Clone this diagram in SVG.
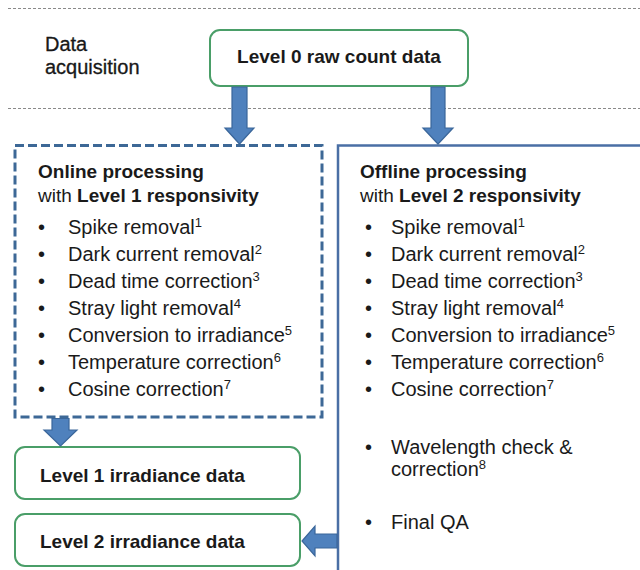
<svg xmlns="http://www.w3.org/2000/svg" width="640" height="570" viewBox="0 0 640 570">
<style>
text{font-family:"Liberation Sans",Arial,sans-serif;font-size:20px;fill:#1a1a1a}
.b{font-weight:bold;font-size:19px}
.t{font-size:19px}
.sup{font-size:13px}
.sep{stroke:#8a8a8a;stroke-width:1;stroke-dasharray:3 2;fill:none}
.gbox{fill:#fff;stroke:#4a9e68;stroke-width:2}
.arr{fill:#4f81bd;stroke:#3a669a;stroke-width:1.2}
</style>
<rect width="640" height="570" fill="#fff"/>
<g id="separators">
<line class="sep" x1="8" y1="8.5" x2="640" y2="8.5"/>
<line class="sep" x1="8" y1="108.5" x2="640" y2="108.5"/>
</g>
<g id="label-acquisition">
<text x="45" y="51" fill="#111" stroke="#111" stroke-width="0.3">Data</text>
<text x="45" y="74" fill="#111" stroke="#111" stroke-width="0.3">acquisition</text>
</g>
<g id="level0">
<rect class="gbox" x="210" y="30" width="258" height="56" rx="10"/>
<text class="b" x="339" y="63" text-anchor="middle">Level 0 raw count data</text>
</g>
<g id="online">
<rect x="15" y="145.5" width="307" height="271.5" fill="#fff" stroke="#3d6896" stroke-width="3" stroke-dasharray="9 4"/>
<text class="b" x="38" y="178">Online processing</text>
<text class="t" x="38" y="202">with <tspan class="b">Level 1 responsivity</tspan></text>
<g>
<text x="38" y="234">•</text><text x="68" y="234">Spike removal<tspan class="sup" dy="-7">1</tspan></text>
<text x="38" y="261">•</text><text x="68" y="261">Dark current removal<tspan class="sup" dy="-7">2</tspan></text>
<text x="38" y="288">•</text><text x="68" y="288">Dead time correction<tspan class="sup" dy="-7">3</tspan></text>
<text x="38" y="315">•</text><text x="68" y="315">Stray light removal<tspan class="sup" dy="-7">4</tspan></text>
<text x="38" y="342">•</text><text x="68" y="342">Conversion to irradiance<tspan class="sup" dy="-7">5</tspan></text>
<text x="38" y="369">•</text><text x="68" y="369">Temperature correction<tspan class="sup" dy="-7">6</tspan></text>
<text x="38" y="396">•</text><text x="68" y="396">Cosine correction<tspan class="sup" dy="-7">7</tspan></text>
</g>
</g>
<g id="offline">
<rect x="338" y="145.5" width="320" height="440" fill="#fff" stroke="#4a6fa5" stroke-width="2.5"/>
<text class="b" x="360" y="178">Offline processing</text>
<text class="t" x="360" y="202">with <tspan class="b">Level 2 responsivity</tspan></text>
<g>
<text x="365" y="234">•</text><text x="391" y="234">Spike removal<tspan class="sup" dy="-7">1</tspan></text>
<text x="365" y="261">•</text><text x="391" y="261">Dark current removal<tspan class="sup" dy="-7">2</tspan></text>
<text x="365" y="288">•</text><text x="391" y="288">Dead time correction<tspan class="sup" dy="-7">3</tspan></text>
<text x="365" y="315">•</text><text x="391" y="315">Stray light removal<tspan class="sup" dy="-7">4</tspan></text>
<text x="365" y="342">•</text><text x="391" y="342">Conversion to irradiance<tspan class="sup" dy="-7">5</tspan></text>
<text x="365" y="369">•</text><text x="391" y="369">Temperature correction<tspan class="sup" dy="-7">6</tspan></text>
<text x="365" y="396">•</text><text x="391" y="396">Cosine correction<tspan class="sup" dy="-7">7</tspan></text>
<text x="365" y="454">•</text><text x="391" y="454">Wavelength check &amp;</text>
<text x="391" y="476">correction<tspan class="sup" dy="-7">8</tspan></text>
<text x="365" y="529">•</text><text x="391" y="529">Final QA</text>
</g>
</g>
<g id="level1">
<rect class="gbox" x="15" y="447" width="285" height="52" rx="10"/>
<text class="b" x="40" y="482">Level 1 irradiance data</text>
</g>
<g id="level2">
<rect class="gbox" x="15" y="514" width="285" height="52" rx="10"/>
<text class="b" x="40" y="548">Level 2 irradiance data</text>
</g>
<g id="connectors">
<polygon class="arr" points="232,87 247,87 247,128 254,128 239.5,144 225,128 232,128"/>
<polygon class="arr" points="431,87 445,87 445,128 453,128 438,144 423,128 431,128"/>
<polygon class="arr" points="52,418.5 69,418.5 69,430 77,430 60.5,446 44,430 52,430"/>
<polygon class="arr" points="337,534 315,534 315,526 302,541 315,556 315,548 337,548"/>
</g>
</svg>
